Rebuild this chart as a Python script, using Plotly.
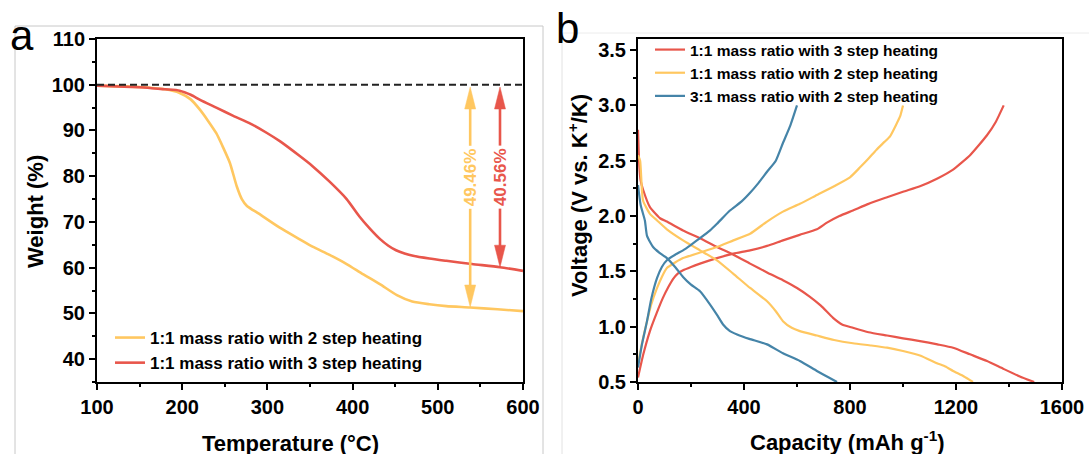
import plotly.graph_objects as go

W, H = 1089, 454
FONT = "Arial, Liberation Sans, sans-serif"
RED = "#E8564B"
YELLOW = "#FFC760"
BLUE = "#4584A8"

# ---------------- Panel a: TGA ----------------
t_2step = [100, 150, 180, 197, 210, 221, 230, 240, 248, 256, 264, 270, 276, 290, 314, 338, 353,
           373, 393, 412, 432, 452, 470, 490, 510, 538, 570, 600]
w_2step = [99.8, 99.5, 99.0, 98.2, 96.8, 94.5, 92.2, 89.4, 86.3, 82.9, 77.8, 75.0, 73.5, 71.8,
           68.8, 66.2, 64.6, 62.8, 60.8, 58.6, 56.4, 54.0, 52.6, 52.0, 51.6, 51.3, 50.9, 50.5]

t_3step = [100, 140, 162, 180, 197, 210, 221, 240, 260, 280, 299, 315, 338, 353, 373, 393, 408,
           420, 432, 442, 451, 461, 471, 490, 510, 540, 573, 600]
w_3step = [99.8, 99.5, 99.3, 99.0, 98.7, 97.8, 96.7, 95.0, 93.2, 91.5, 89.5, 87.6, 84.4, 82.2,
           78.8, 75.0, 71.2, 68.6, 66.3, 64.8, 63.8, 63.1, 62.6, 62.0, 61.5, 60.8, 60.1, 59.3]

ref_weight = 100
arrow_t = [538, 573]
arrow_top = [99.5, 99.5]
arrow_bottom = [51.4, 60.1]
arrow_label = ["49.46%", "40.56%"]
arrow_color = [YELLOW, RED]
arrow_label_w = 79.8

# ---------------- Panel b: charge/discharge ----------------
r_dis_c = [0, 5, 10, 19, 45, 83, 109, 170, 234, 298, 360, 423, 487, 547, 600, 649, 690, 736, 770,
           811, 870, 940, 1000, 1064, 1130, 1189, 1253, 1317, 1378, 1441, 1495]
r_dis_v = [2.78, 2.45, 2.32, 2.24, 2.08, 1.98, 1.95, 1.87, 1.80, 1.72, 1.65, 1.57, 1.49, 1.42, 1.35,
           1.27, 1.19, 1.08, 1.02, 0.99, 0.95, 0.92, 0.895, 0.87, 0.84, 0.81, 0.75, 0.69, 0.62, 0.55, 0.50]
r_chg_c = [0, 20, 45, 70, 94, 115, 132, 150, 170, 200, 234, 298, 360, 423, 487, 547, 610, 675, 713,
           760, 811, 870, 940, 1000, 1064, 1130, 1189, 1253, 1317, 1350, 1380]
r_chg_v = [0.54, 0.75, 0.96, 1.12, 1.26, 1.36, 1.43, 1.48, 1.51, 1.54, 1.57, 1.62, 1.66, 1.69, 1.73,
           1.78, 1.83, 1.88, 1.94, 2.00, 2.05, 2.11, 2.17, 2.22, 2.27, 2.34, 2.42, 2.55, 2.73, 2.85, 3.00]

y_dis_c = [0, 8, 19, 45, 72, 109, 170, 234, 298, 359, 423, 487, 520, 547, 580, 611, 675, 740, 811,
           880, 940, 1000, 1064, 1128, 1160, 1189, 1230, 1264]
y_dis_v = [2.55, 2.50, 2.14, 2.02, 1.96, 1.88, 1.78, 1.69, 1.60, 1.48, 1.35, 1.23, 1.14, 1.05, 0.99,
           0.96, 0.92, 0.88, 0.85, 0.83, 0.81, 0.78, 0.74, 0.67, 0.64, 0.60, 0.55, 0.50]
y_chg_c = [0, 15, 34, 50, 72, 90, 109, 140, 170, 234, 298, 360, 423, 487, 547, 611, 675, 740, 800,
           838, 870, 900, 930, 951, 975, 989, 1000]
y_chg_v = [0.66, 0.85, 1.05, 1.20, 1.35, 1.45, 1.53, 1.58, 1.62, 1.67, 1.72, 1.78, 1.84, 1.95, 2.04,
           2.11, 2.19, 2.27, 2.35, 2.44, 2.52, 2.60, 2.67, 2.72, 2.83, 2.90, 3.00]

b_dis_c = [0, 10, 26, 34, 57, 80, 109, 140, 170, 200, 234, 272, 300, 321, 347, 374, 420, 487, 547,
           611, 675, 720, 751]
b_dis_v = [2.28, 2.10, 1.96, 1.82, 1.72, 1.67, 1.62, 1.54, 1.45, 1.38, 1.32, 1.20, 1.10, 1.02, 0.96,
           0.93, 0.89, 0.84, 0.76, 0.69, 0.60, 0.54, 0.50]
b_chg_c = [0, 15, 34, 50, 72, 90, 109, 140, 170, 200, 234, 272, 298, 347, 390, 423, 455, 487, 520,
           547, 575, 600]
b_chg_v = [0.63, 0.84, 1.05, 1.25, 1.44, 1.54, 1.60, 1.65, 1.69, 1.74, 1.80, 1.87, 1.93, 2.05, 2.13,
           2.21, 2.30, 2.40, 2.50, 2.66, 2.82, 3.00]

name_a = ["1:1 mass ratio with 2 step heating", "1:1 mass ratio with 3 step heating"]
name_b = ["1:1 mass ratio with 3 step heating", "1:1 mass ratio with 2 step heating",
          "3:1 mass ratio with 2 step heating"]

fig = go.Figure()

# panel a curves
fig.add_trace(go.Scatter(x=t_2step, y=w_2step, mode="lines", name=name_a[0],
                         line=dict(color=YELLOW, width=2.6, shape="spline", smoothing=0.6),
                         xaxis="x", yaxis="y", legend="legend"))
fig.add_trace(go.Scatter(x=t_3step, y=w_3step, mode="lines", name=name_a[1],
                         line=dict(color=RED, width=2.6, shape="spline", smoothing=0.6),
                         xaxis="x", yaxis="y", legend="legend"))

# arrows (shafts + narrow heads), sizes in pixels converted via axis scale
px_per_t = (523 - 97) / (600 - 100)
px_per_w = (382 - 39) / (110 - 35)
head_len = 22 / px_per_w
head_half = 5.5 / px_per_t
for xt, top, bot, col in zip(arrow_t, arrow_top, arrow_bottom, arrow_color):
    fig.add_trace(go.Scatter(x=[xt, xt], y=[top - head_len * 0.8, bot + head_len * 0.8], mode="lines",
                             line=dict(color=col, width=2.6), showlegend=False, hoverinfo="skip",
                             xaxis="x", yaxis="y"))
    for tip, sgn in ((top, -1), (bot, 1)):
        fig.add_trace(go.Scatter(
            x=[xt, xt - head_half, xt + head_half, xt],
            y=[tip, tip + sgn * head_len, tip + sgn * head_len, tip],
            mode="lines", fill="toself", fillcolor=col, line=dict(color=col, width=0.5),
            showlegend=False, hoverinfo="skip", xaxis="x", yaxis="y"))

# panel b curves
for cd, vd, cc, vc, col, nm in ((r_dis_c, r_dis_v, r_chg_c, r_chg_v, RED, name_b[0]),
                                (y_dis_c, y_dis_v, y_chg_c, y_chg_v, YELLOW, name_b[1]),
                                (b_dis_c, b_dis_v, b_chg_c, b_chg_v, BLUE, name_b[2])):
    fig.add_trace(go.Scatter(x=cd, y=vd, mode="lines", name=nm, legendgroup=nm,
                             line=dict(color=col, width=2.2, shape="spline", smoothing=0.5),
                             xaxis="x2", yaxis="y2", legend="legend2"))
    fig.add_trace(go.Scatter(x=cc, y=vc, mode="lines", name=nm, legendgroup=nm, showlegend=False,
                             line=dict(color=col, width=2.2, shape="spline", smoothing=0.5),
                             xaxis="x2", yaxis="y2", legend="legend2"))

tickfont = dict(family=FONT, size=20, color="black", weight="bold")


def axis_style(**kw):
    d = dict(showline=True, linecolor="black", linewidth=2, mirror=True, ticks="outside",
             ticklen=6, tickwidth=2, tickcolor="black", showgrid=False, zeroline=False,
             tickfont=tickfont, fixedrange=True, automargin=False)
    d.update(kw)
    return d


ydom = [1 - 382 / H, 1 - 39 / H]
fig.update_layout(
    width=W, height=H, margin=dict(l=0, r=0, t=0, b=0, autoexpand=False),
    paper_bgcolor="white", plot_bgcolor="white",
    xaxis=axis_style(domain=[97 / W, 523 / W], range=[100, 600], dtick=100, tick0=100, anchor="y",
                     minor=dict(ticks="outside", ticklen=3, tickwidth=2, tickcolor="black", dtick=50)),
    yaxis=axis_style(domain=ydom, range=[35, 110], dtick=10, tick0=0, anchor="x",
                     minor=dict(ticks="outside", ticklen=3, tickwidth=2, tickcolor="black", dtick=5)),
    xaxis2=axis_style(domain=[638 / W, 1062 / W], range=[0, 1600], dtick=400, tick0=0, anchor="y2",
                      minor=dict(ticks="outside", ticklen=3, tickwidth=2, tickcolor="black", dtick=200)),
    yaxis2=axis_style(domain=ydom, range=[0.5, 3.6], dtick=0.5, tick0=0.5, tickformat=".1f", anchor="x2",
                      minor=dict(ticks="outside", ticklen=3, tickwidth=2, tickcolor="black", dtick=0.25)),
    legend=dict(x=(115 - 5) / W, y=1 - 320 / H, xanchor="left", yanchor="top",
                bgcolor="rgba(0,0,0,0)", tracegroupgap=0, itemwidth=30,
                font=dict(family=FONT, size=17, color="black", weight="bold")),
    legend2=dict(x=(655 - 5) / W, y=1 - 33 / H, xanchor="left", yanchor="top",
                 bgcolor="rgba(0,0,0,0)", tracegroupgap=0, itemwidth=30,
                 font=dict(family=FONT, size=15.5, color="black", weight="bold")),
    showlegend=True,
)

shapes = [
    dict(type="line", xref="x domain", yref="y", x0=0, x1=1, y0=ref_weight, y1=ref_weight,
         line=dict(color="#222222", width=2, dash="7px,4px")),
    # faint figure-panel frames
    dict(type="line", xref="paper", yref="paper", x0=15 / W, x1=15 / W, y0=0, y1=1 - 26 / H,
         line=dict(color="#c8c8c8", width=1)),
    dict(type="line", xref="paper", yref="paper", x0=15 / W, x1=543 / W, y0=1 - 26 / H, y1=1 - 26 / H,
         line=dict(color="#c8c8c8", width=1)),
    dict(type="line", xref="paper", yref="paper", x0=543 / W, x1=543 / W, y0=0, y1=1 - 26 / H,
         line=dict(color="#c8c8c8", width=1)),
    dict(type="line", xref="paper", yref="paper", x0=562 / W, x1=562 / W, y0=0, y1=1 - 33 / H,
         line=dict(color="#e2e2e2", width=1)),
    dict(type="line", xref="paper", yref="paper", x0=562 / W, x1=1, y0=1 - 33 / H, y1=1 - 33 / H,
         line=dict(color="#ececec", width=1)),
]
fig.update_layout(shapes=shapes)

title_font = dict(family=FONT, size=22, color="black", weight="bold")


def pann(text, px, py, size=None, angle=0, font=None):
    return dict(text=text, x=px / W, y=1 - py / H, xref="paper", yref="paper", showarrow=False,
                xanchor="center", yanchor="middle", textangle=angle,
                font=font if font else dict(family=FONT, size=size, color="black"))


ann = [
    pann("a", 22, 36, size=42),
    pann("b", 567, 28, size=42),
    pann("Weight (%)", 35, 212, angle=-90, font=title_font),
    pann("Temperature (°C)", 290, 443, font=title_font),
    pann("Voltage (V vs. K<sup>+</sup>/K)", 578, 196, angle=-90, font=title_font),
    pann("Capacity (mAh g<sup>-1</sup>)", 848, 441, font=title_font),
]
for xt, lab, col in zip(arrow_t, arrow_label, arrow_color):
    ann.append(dict(text=lab, x=xt, y=arrow_label_w, xref="x", yref="y", showarrow=False,
                    textangle=-90, bgcolor="white", borderpad=2, xanchor="center", yanchor="middle",
                    font=dict(family=FONT, size=17, color=col, weight="bold")))
fig.update_layout(annotations=ann)

fig.write_html("out.html")
